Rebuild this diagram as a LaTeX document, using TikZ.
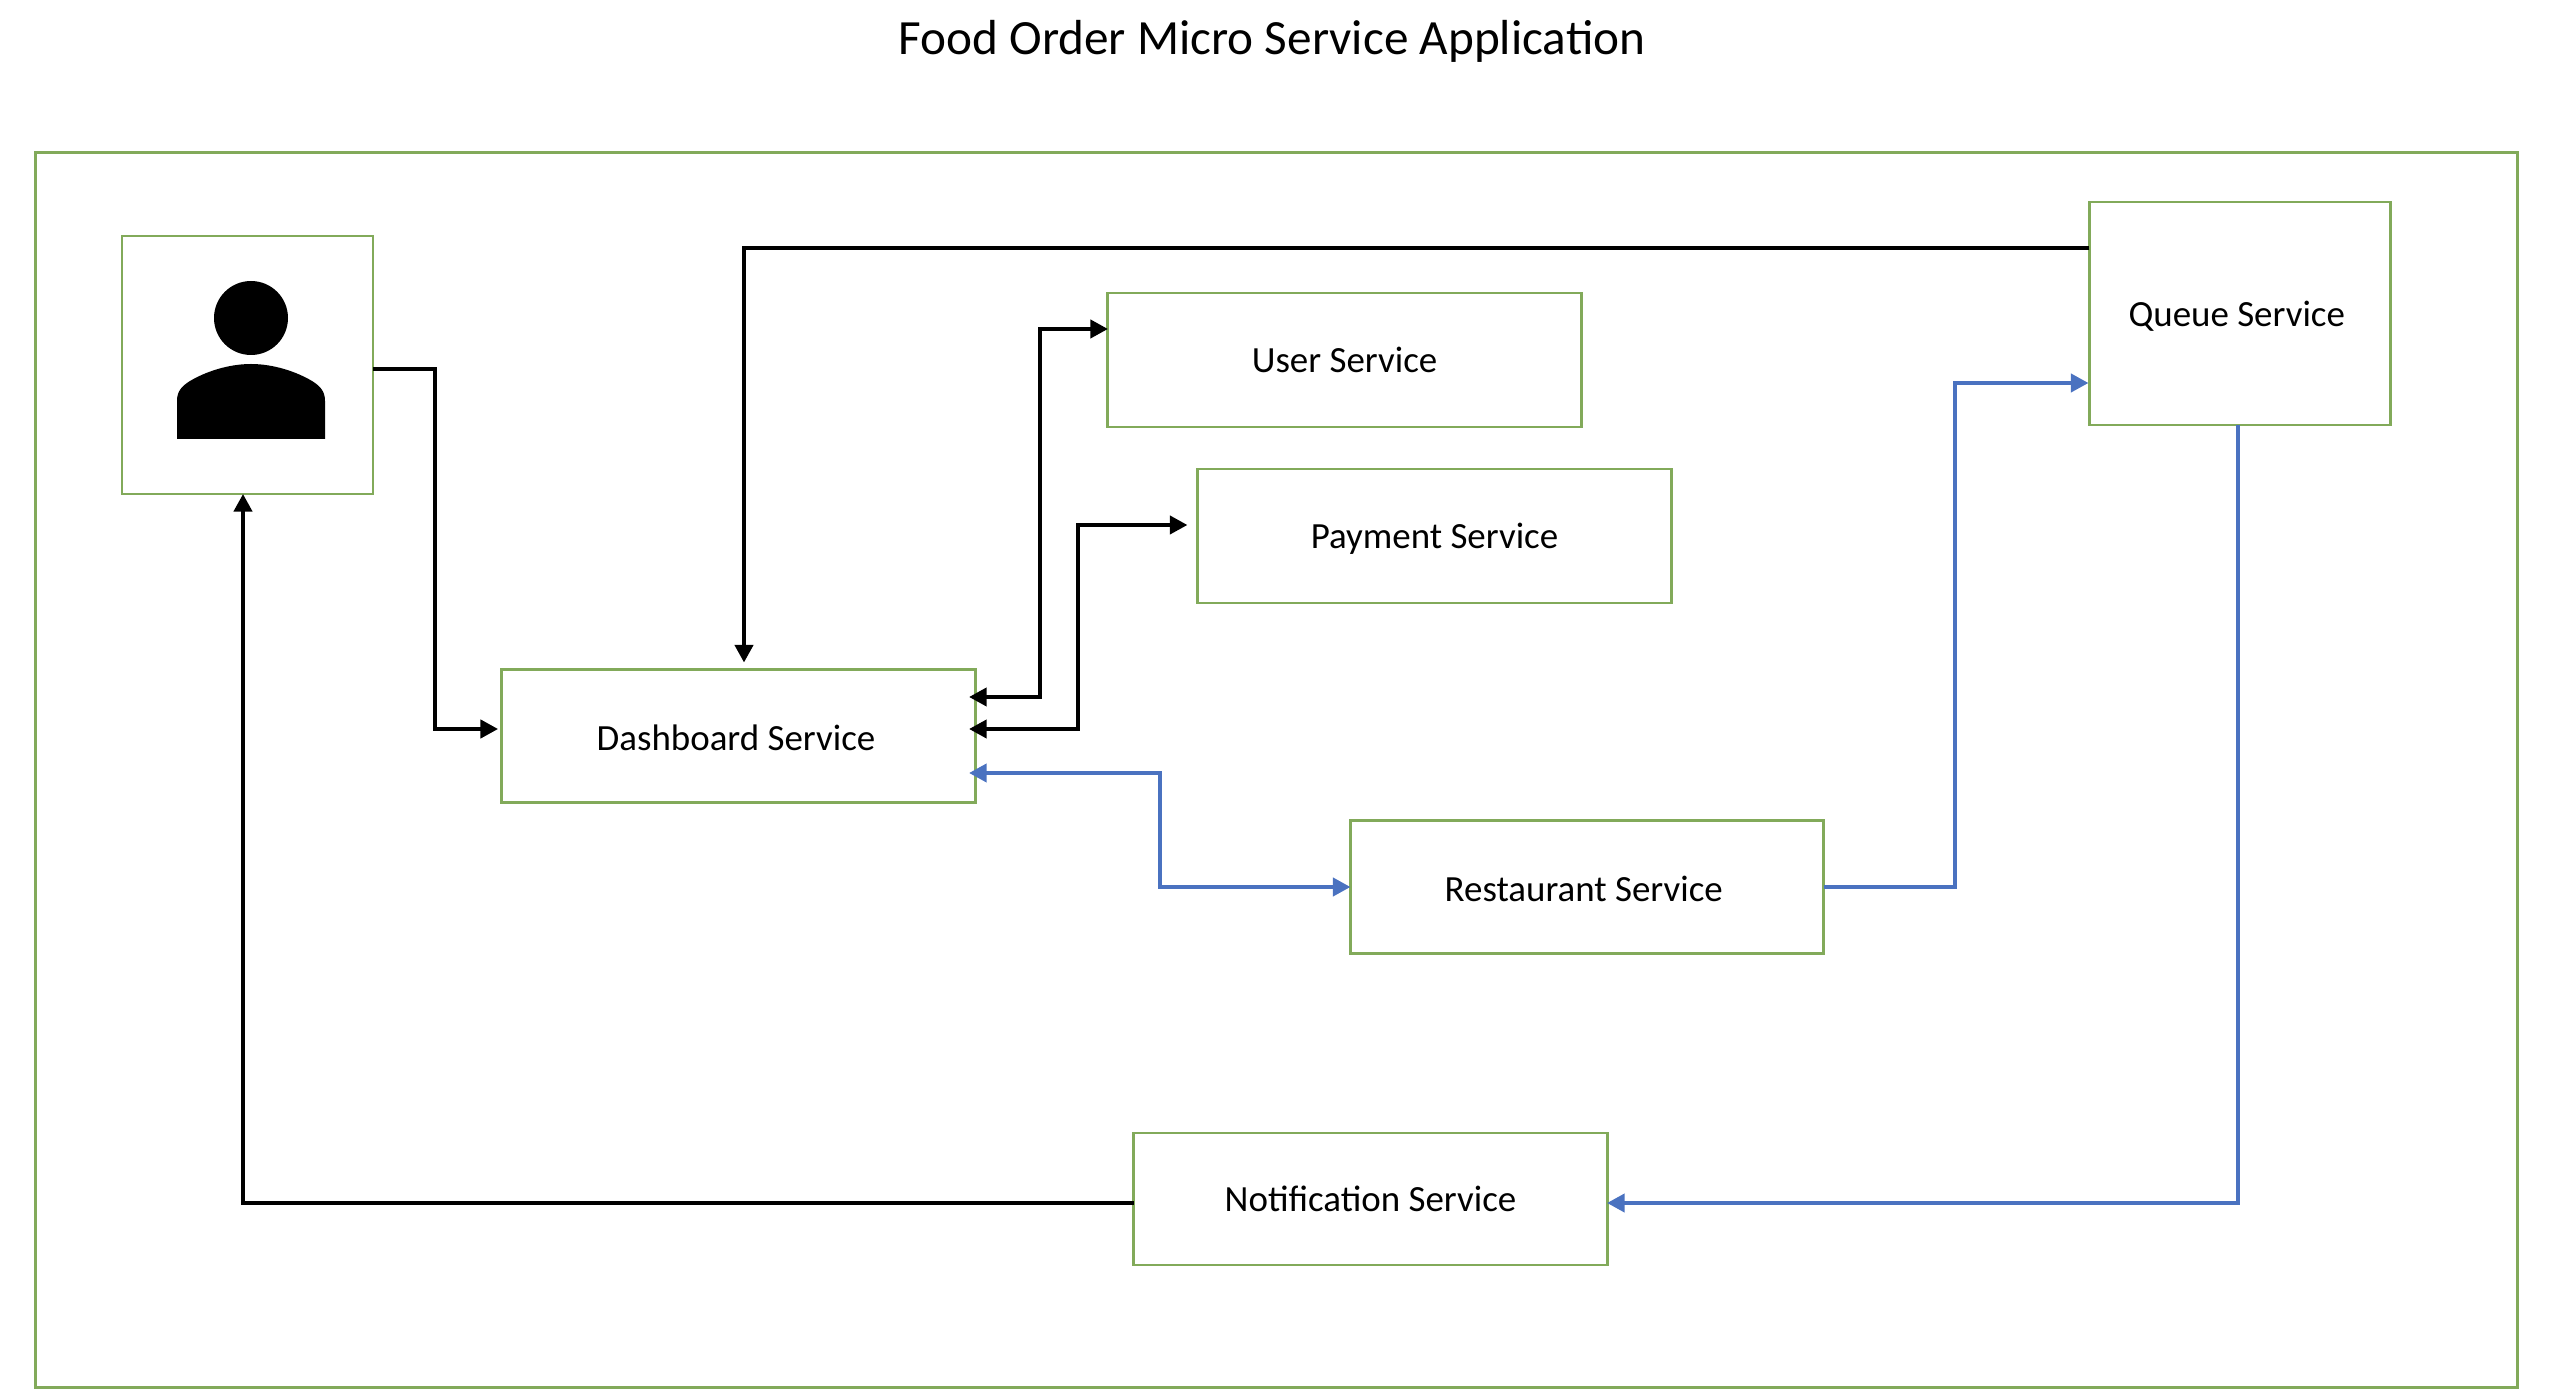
\documentclass[tikz,border=0pt]{standalone}
\usepackage{fontspec}
\setmainfont{Carlito}
\usetikzlibrary{arrows.meta}
\definecolor{boxgreen}{RGB}{130,170,90}
\definecolor{linkblue}{RGB}{74,114,192}
\newcommand{\nudge}[3]{\raisebox{#2}[\height][\depth]{\hspace*{#1}#3\hspace*{-#1}}}
\tikzset{
  svcbox/.style={draw=boxgreen, line width=0.8pt, inner sep=0pt, outer sep=0pt, font=\fontsize{10.5}{12}\selectfont},
  link/.style={line width=1pt, ->},
  bluelink/.style={link, draw=linkblue},
  >={Triangle[length=5pt,width=5.2pt]}
}
\begin{document}
\begin{tikzpicture}[x=0.01cm,y=-0.01cm]
  \useasboundingbox (0,0) rectangle (2552,1398);
  \node (title) at (1272,41) {\fontsize{14}{16}\selectfont Food Order Micro Service Application};
  \node[draw=boxgreen, line width=0.8pt, minimum width=2481*0.2845pt, minimum height=1234*0.2845pt, inner sep=0pt, outer sep=0pt] (frame) at (1276.5,770) {};

  \node[svcbox, minimum width=251*0.2845pt, minimum height=258*0.2845pt] (person) at (247.5,365) {};
  \node[svcbox, minimum width=473*0.2845pt, minimum height=133*0.2845pt] (dashboard) at (738.5,736) {\nudge{-0.7pt}{-0.45pt}{Dashboard Service}};
  \node[svcbox, minimum width=473*0.2845pt, minimum height=134*0.2845pt] (user) at (1344.5,360) {User Service};
  \node[svcbox, minimum width=473*0.2845pt, minimum height=134*0.2845pt] (payment) at (1434.5,536) {\nudge{0pt}{-0.9pt}{Payment Service}};
  \node[svcbox, minimum width=473*0.2845pt, minimum height=133*0.2845pt] (restaurant) at (1587,887) {\nudge{-0.93pt}{-0.45pt}{Restaurant Service}};
  \node[svcbox, minimum width=473*0.2845pt, minimum height=132*0.2845pt] (notification) at (1370.5,1199) {Notification Service};
  \node[svcbox, minimum width=301*0.2845pt, minimum height=223*0.2845pt] (queue) at (2240,313.5) {\nudge{-0.93pt}{-0.9pt}{Queue Service}};

  \fill (251,318) circle (37);
  \fill (177,439) -- (177,401) .. controls (177,391) and (182,386) .. (190,381) .. controls (205,372) and (228,364) .. (251,364) .. controls (274,364) and (297,372) .. (312,381) .. controls (320,386) and (325,391) .. (325,401) -- (325,439) -- cycle;

  \draw[link, shorten >=1.1pt] (person.east |- 0,369) -- (435,369) -- (435,729) -- (dashboard.west |- 0,729);
  \draw[link, shorten >=2pt] (queue.west |- 0,248) -- (744,248) -- (dashboard.north -| 744,0);
  \draw[link, <->, shorten <=-1.7pt] (dashboard.east |- 0,697) -- (1040,697) -- (1040,329) -- (user.west |- 0,329);
  \draw[link, <->, shorten <=-1.7pt, shorten >=3pt] (dashboard.east |- 0,729) -- (1078,729) -- (1078,525) -- (payment.west |- 0,525);
  \draw[bluelink, <->, shorten <=-1.7pt] (dashboard.east |- 0,773) -- (1160,773) -- (1160,887) -- (restaurant.west |- 0,887);
  \draw[bluelink, shorten >=0.3pt] (restaurant.east |- 0,887) -- (1955,887) -- (1955,383) -- (queue.west |- 0,383);
  \draw[bluelink] (queue.south -| 2238,0) -- (2238,1203) -- (notification.east |- 0,1203);
  \draw[link] (notification.west |- 0,1203) -- (243,1203) -- (person.south -| 243,0);
\end{tikzpicture}
\end{document}
